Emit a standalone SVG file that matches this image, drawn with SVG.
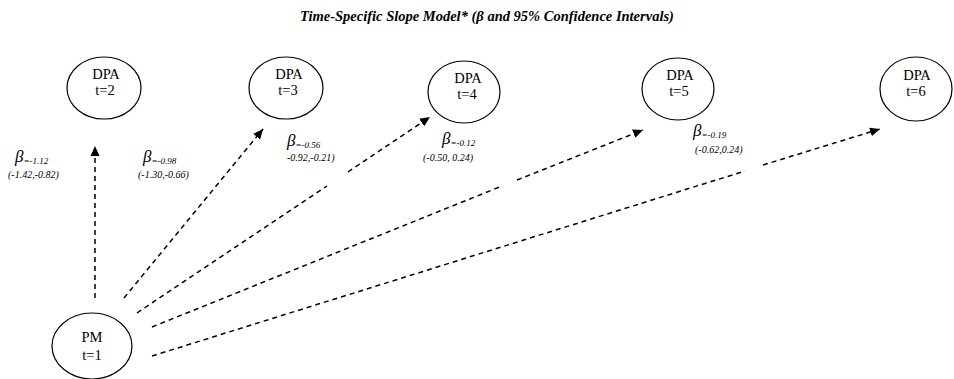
<svg xmlns="http://www.w3.org/2000/svg" width="954" height="379" viewBox="0 0 954 379">
<style>
.node ellipse{fill:#fff;stroke:#000;stroke-width:1.2}
.nt{font-family:"Liberation Serif","Times New Roman",serif;font-size:14.5px;text-anchor:middle;fill:#000}
.title{font-family:"Liberation Serif","Times New Roman",serif;font-size:14.5px;font-weight:bold;font-style:italic;text-anchor:middle;fill:#000}
.beta{font-family:"Liberation Serif","Times New Roman",serif;font-size:17px;font-style:italic;fill:#000}
.sub{font-family:"Liberation Serif","Times New Roman",serif;font-size:9px;font-style:italic;fill:#000}
.ci{font-family:"Liberation Serif","Times New Roman",serif;font-size:10px;font-style:italic;fill:#000}
.edge{fill:none;stroke:#000;stroke-width:1.5;stroke-dasharray:5 4}
</style>
<defs>
<marker id="arr" markerUnits="userSpaceOnUse" markerWidth="12" markerHeight="12" viewBox="0 0 12 12" refX="10" refY="6" orient="auto">
<path d="M0,1.5 L10,6 L0,10.5 Z" fill="#000"/>
</marker>
</defs>
<rect width="954" height="379" fill="#fff"/>
<text class="title" x="487" y="21">Time-Specific Slope Model* (β and 95% Confidence Intervals)</text>
<g id="connectors">
<path class="edge" d="M95,298 L95,146" marker-end="url(#arr)"/>
<path class="edge" d="M124,298 L263,129" marker-end="url(#arr)"/>
<path class="edge" d="M137,313 L327,186"/>
<path class="edge" d="M348,172 L430,117" marker-end="url(#arr)"/>
<path class="edge" d="M152,327 L502,186"/>
<path class="edge" d="M517,180 L643,130" marker-end="url(#arr)"/>
<path class="edge" d="M152,356 L745,171"/>
<path class="edge" d="M763,165 L880,129" marker-end="url(#arr)"/>
</g>
<g id="labels">
<text class="beta" x="15" y="162">β<tspan class="sub" dy="2">=-1.12</tspan></text>
<text class="ci" x="8" y="178">(-1.42,-0.82)</text>
<text class="beta" x="143" y="162">β<tspan class="sub" dy="2">=-0.98</tspan></text>
<text class="ci" x="138" y="178">(-1.30,-0.66)</text>
<text class="beta" x="287" y="146">β<tspan class="sub" dy="2">=-0.56</tspan></text>
<text class="ci" x="287" y="161">-0.92,-0.21)</text>
<text class="beta" x="442" y="144">β<tspan class="sub" dy="2">=-0.12</tspan></text>
<text class="ci" x="423" y="161">(-0.50, 0.24)</text>
<text class="beta" x="693" y="136">β<tspan class="sub" dy="2">=-0.19</tspan></text>
<text class="ci" x="695" y="153">(-0.62,0.24)</text>
</g>
<g id="dpa2" class="node"><ellipse cx="104" cy="88" rx="37" ry="31"/><text class="nt" x="106" y="79">DPA</text><text class="nt" x="105" y="95">t=2</text></g>
<g id="dpa3" class="node"><ellipse cx="286" cy="88" rx="37" ry="31"/><text class="nt" x="289" y="79">DPA</text><text class="nt" x="288" y="95">t=3</text></g>
<g id="dpa4" class="node"><ellipse cx="464" cy="92" rx="36" ry="31"/><text class="nt" x="468" y="83">DPA</text><text class="nt" x="467" y="99">t=4</text></g>
<g id="dpa5" class="node"><ellipse cx="678" cy="89" rx="36" ry="31"/><text class="nt" x="680" y="80">DPA</text><text class="nt" x="679" y="96">t=5</text></g>
<g id="dpa6" class="node"><ellipse cx="916" cy="89" rx="36" ry="32"/><text class="nt" x="917" y="80">DPA</text><text class="nt" x="916" y="96">t=6</text></g>
<g id="pm1" class="node"><ellipse cx="92" cy="346" rx="40" ry="33"/><text class="nt" x="92" y="342">PM</text><text class="nt" x="92" y="360">t=1</text></g>
</svg>
